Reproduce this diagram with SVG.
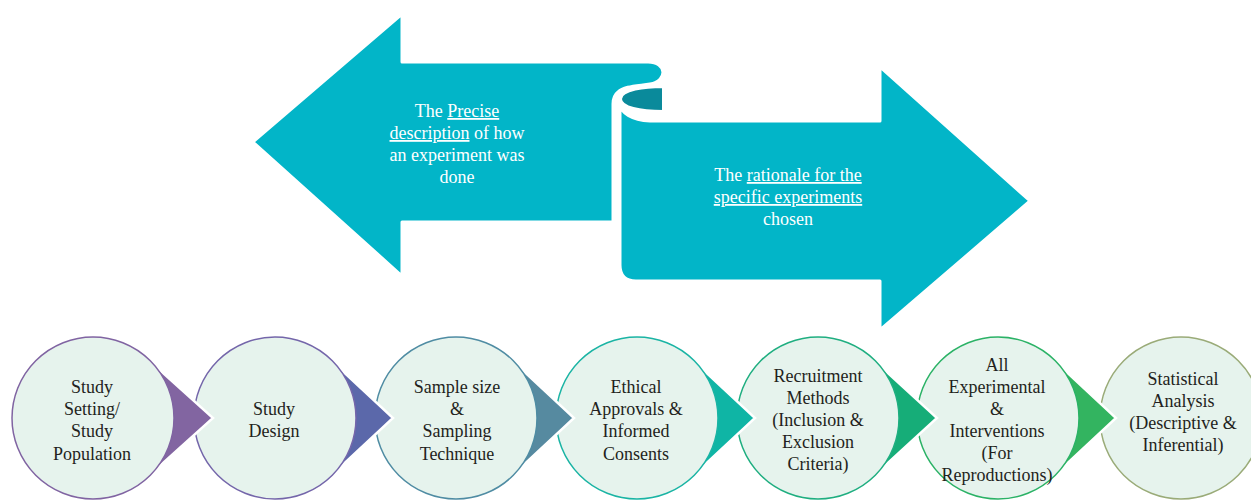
<svg xmlns="http://www.w3.org/2000/svg" width="1251" height="504" viewBox="0 0 1251 504">
<style>
.bg{fill:#ffffff}
.big{fill:#02b5c8;stroke:#ffffff;stroke-width:3;stroke-linejoin:round}
.fold{fill:#0a8a9b;stroke:#ffffff;stroke-width:2}
.wt{font-family:"Liberation Serif",serif;font-size:18px;fill:#ffffff;text-anchor:middle}
.ct{font-family:"Liberation Serif",serif;font-size:18px;fill:#231f20;text-anchor:middle}
.circ{fill:#e6f3ed;stroke-width:1.5}
.chev{stroke:#ffffff;stroke-width:2.5;stroke-linejoin:miter}
</style>
<rect class="bg" x="0" y="0" width="1251" height="504"/>

<g id="arrow-left">
<path class="big" d="M253,142 L402,14 L402,62 L648,62 C667,62 668,81 650,84 C637,86 624,86 618,92 Q613,96 613,104 L613,222 L402,222 L402,276 Z"/>
<text class="wt" x="457" y="117">The <tspan text-decoration="underline">Precise</tspan></text>
<text class="wt" x="457" y="139"><tspan text-decoration="underline">description</tspan> of how</text>
<text class="wt" x="457" y="161">an experiment was</text>
<text class="wt" x="457" y="183">done</text>
</g>

<g id="arrow-right">
<path class="big" d="M620,103 C620,113 632,120 650,121 L880,121 L880,67 L1030,201 L880,330 L880,281 L636,281 Q620,281 620,265 Z"/>
<path class="fold" d="M663,87 C645,87 621,90 621,99 C621,107 640,111 663,111 Z"/>
<text class="wt" x="788" y="181">The <tspan text-decoration="underline">rationale for the</tspan></text>
<text class="wt" x="788" y="203"><tspan text-decoration="underline">specific experiments</tspan></text>
<text class="wt" x="788" y="225">chosen</text>
</g>

<g id="flow">
<g id="n7">
<circle class="circ" cx="1181" cy="418" r="81" stroke="#9aab78"/>
<text class="ct" x="1183" y="385">Statistical</text>
<text class="ct" x="1183" y="407">Analysis</text>
<text class="ct" x="1183" y="429">(Descriptive &amp;</text>
<text class="ct" x="1183" y="451">Inferential)</text>
</g>
<g id="c6"><path class="chev" fill="#33b460" d="M1015,418 L1057,363 L1116,418 L1057,473 Z"/></g>
<g id="n6">
<circle class="circ" cx="998" cy="418" r="81" stroke="#2bb266"/>
<text class="ct" x="997" y="371">All</text>
<text class="ct" x="997" y="393">Experimental</text>
<text class="ct" x="997" y="415">&amp;</text>
<text class="ct" x="997" y="437">Interventions</text>
<text class="ct" x="997" y="459">(For</text>
<text class="ct" x="997" y="481">Reproductions)</text>
</g>
<g id="c5"><path class="chev" fill="#16ad78" d="M835,418 L877,363 L937,418 L877,473 Z"/></g>
<g id="n5">
<circle class="circ" cx="818" cy="418" r="81" stroke="#1fae80"/>
<text class="ct" x="818" y="382">Recruitment</text>
<text class="ct" x="818" y="404">Methods</text>
<text class="ct" x="818" y="426">(Inclusion &amp;</text>
<text class="ct" x="818" y="448">Exclusion</text>
<text class="ct" x="818" y="470">Criteria)</text>
</g>
<g id="c4"><path class="chev" fill="#0fb5a5" d="M654,418 L696,363 L755,418 L696,473 Z"/></g>
<g id="n4">
<circle class="circ" cx="637" cy="418" r="81" stroke="#1ab4a4"/>
<text class="ct" x="636" y="393">Ethical</text>
<text class="ct" x="636" y="415">Approvals &amp;</text>
<text class="ct" x="636" y="437">Informed</text>
<text class="ct" x="636" y="460">Consents</text>
</g>
<g id="c3"><path class="chev" fill="#568aa0" d="M473,418 L515,363 L574,418 L515,473 Z"/></g>
<g id="n3">
<circle class="circ" cx="456" cy="418" r="81" stroke="#4f8ca3"/>
<text class="ct" x="457" y="393">Sample size</text>
<text class="ct" x="457" y="415">&amp;</text>
<text class="ct" x="457" y="437">Sampling</text>
<text class="ct" x="457" y="460">Technique</text>
</g>
<g id="c2"><path class="chev" fill="#5b68aa" d="M292,418 L334,363 L393,418 L334,473 Z"/></g>
<g id="n2">
<circle class="circ" cx="275" cy="418" r="81" stroke="#7466aa"/>
<text class="ct" x="274" y="415">Study</text>
<text class="ct" x="274" y="437">Design</text>
</g>
<g id="c1"><path class="chev" fill="#8265a1" d="M110,418 L152,363 L213,418 L152,473 Z"/></g>
<g id="n1">
<circle class="circ" cx="93" cy="418" r="81" stroke="#8064a2"/>
<text class="ct" x="92" y="393">Study</text>
<text class="ct" x="92" y="415">Setting/</text>
<text class="ct" x="92" y="437">Study</text>
<text class="ct" x="92" y="460">Population</text>
</g>
</g>
</svg>
